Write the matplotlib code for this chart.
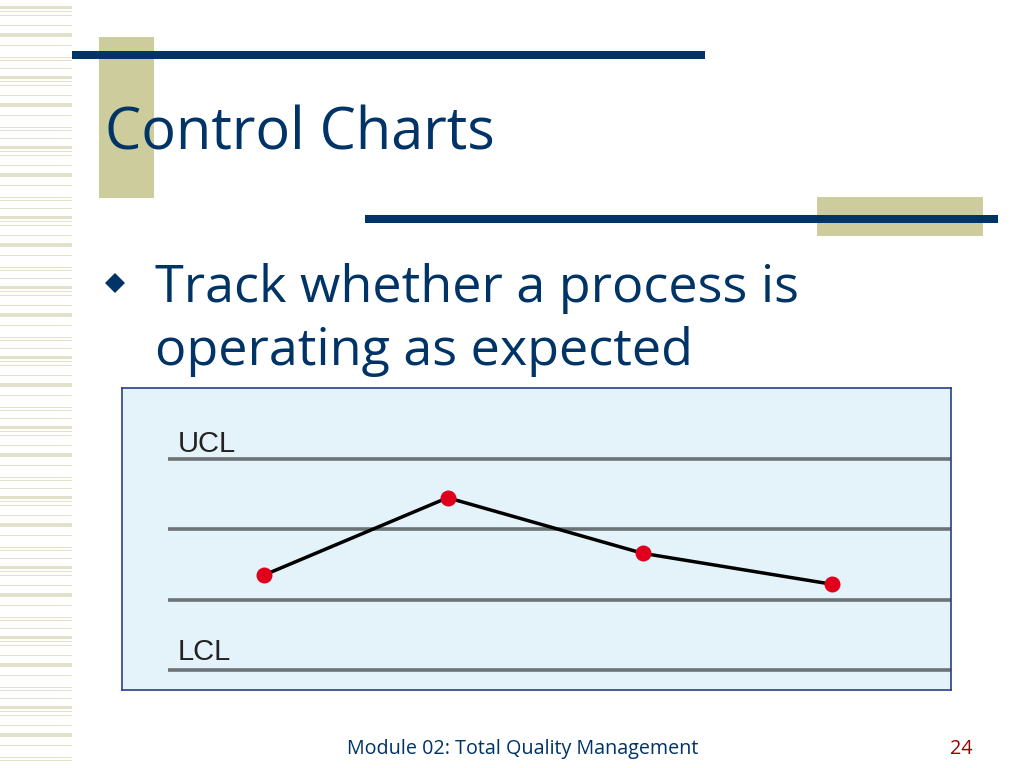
import matplotlib
matplotlib.use("Agg")
import matplotlib.pyplot as plt
from matplotlib.patches import Rectangle, Polygon

# Control chart data (samples and measured values, in "limit band" units)
samples = [1.0, 1.97, 3.0, 4.0]
values = [1.35, 2.45, 1.66, 1.22]
limit_lines = [3.0, 2.0, 1.0, 0.0]     # UCL, centre, lower band, LCL
limit_labels = ["UCL", "LCL"]
limit_label_y = [3.10, 0.142]

title_text = "Control Charts"
bullet_lines = ["Track whether a process is", "operating as expected"]
footer_text = "Module 02: Total Quality Management"
page_number = "24"

navy = "#003366"
beige = "#CCCC9C"
stripe_col = "#E2E2CC"

fig = plt.figure(figsize=(10.24, 7.68), dpi=100)
fig.patch.set_facecolor("white")

# Background axes in pixel coordinates for the slide decoration
deco = fig.add_axes([0, 0, 1, 1])
deco.set_xlim(0, 1024)
deco.set_ylim(768, 0)
deco.axis("off")

# Left stripe texture (one period repeated down the page)
stripe_period = [(6, 3), (11, 1.2), (15, 1.2), (25, 1.2), (33, 4),
                 (45, 1.2), (57, 1.2), (60, 1.2), (68, 1.2)]
y0 = 0
while y0 < 768:
    for off, th in stripe_period:
        deco.add_patch(Rectangle((0, y0 + off), 72, th, color=stripe_col, lw=0))
    y0 += 70

# Beige blocks and navy rules
deco.add_patch(Rectangle((99, 37), 55, 161, color=beige, lw=0, zorder=1))
deco.add_patch(Rectangle((72, 51), 633, 8, color=navy, lw=0, zorder=2))
deco.add_patch(Rectangle((817, 197), 166, 39, color=beige, lw=0, zorder=1))
deco.add_patch(Rectangle((365, 215), 633, 8, color=navy, lw=0, zorder=2))

# Title
deco.text(105, 150, title_text, fontsize=41.5, color=navy, family="Open Sans",
          va="baseline", ha="left", zorder=3)

# Bullet
deco.add_patch(Polygon([(115, 273), (125, 283), (115, 293), (105, 283)],
                       closed=True, color=navy, lw=0))
deco.text(155, 302, bullet_lines[0], fontsize=37.5, color=navy, family="Open Sans",
          va="baseline", ha="left")
deco.text(155, 365, bullet_lines[1], fontsize=37.5, color=navy, family="Open Sans",
          va="baseline", ha="left")

# Footer
deco.text(347, 754, footer_text, fontsize=14.2, color=navy, family="Open Sans",
          va="baseline", ha="left")
deco.text(973, 754, page_number, fontsize=14.2, color="#990000", family="Open Sans",
          va="baseline", ha="right")

# Control chart panel
ax = fig.add_axes([122 / 1024, 1 - 690 / 768, 829 / 1024, 302 / 768])
ax.set_facecolor("#E4F2FA")
ax.set_xlim(0.25, 4.629)
ax.set_ylim(-0.284, 4.01)
ax.set_xticks([])
ax.set_yticks([])
for sp in ax.spines.values():
    sp.set_color("#2A3F88")
    sp.set_linewidth(1.2)

ax.hlines(limit_lines, 0.493, 4.629, colors="#6B7377", linewidth=2.6, zorder=1)
ax.text(0.546, limit_label_y[0], limit_labels[0], fontsize=21, color="#222222",
        family="Liberation Sans", va="baseline", ha="left")
ax.text(0.546, limit_label_y[1], limit_labels[1], fontsize=21, color="#222222",
        family="Liberation Sans", va="baseline", ha="left")

ax.plot(samples, values, color="black", linewidth=2.5, zorder=2)
ax.plot(samples, values, "o", color="#E0001B", markersize=11.5,
        markeredgewidth=0, zorder=3)

fig.savefig("out.png", dpi=100)
